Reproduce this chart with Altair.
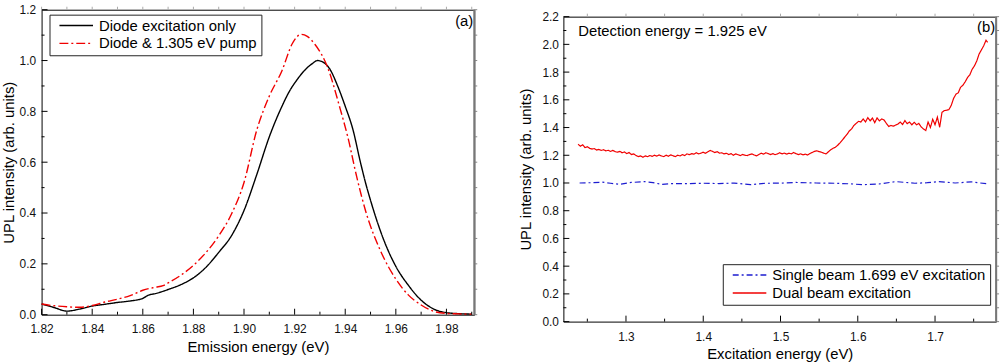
import altair as alt
import pandas as pd

FONT = "Liberation Sans"

# ---------------- Panel (a): emission spectra ----------------
only_x = [1.820, 1.825, 1.830, 1.835, 1.840, 1.845, 1.850, 1.855, 1.860, 1.862,
          1.865, 1.870, 1.875, 1.880, 1.885, 1.890, 1.895, 1.900, 1.905, 1.910,
          1.915, 1.918, 1.921, 1.924, 1.927, 1.929, 1.931, 1.934, 1.937, 1.940,
          1.943, 1.946, 1.948, 1.950, 1.955, 1.960, 1.965, 1.970, 1.975, 1.980,
          1.985, 1.990]
only_y = [0.042, 0.028, 0.014, 0.022, 0.034, 0.041, 0.048, 0.054, 0.064, 0.076,
          0.083, 0.099, 0.118, 0.145, 0.187, 0.245, 0.310, 0.410, 0.550, 0.700,
          0.820, 0.880, 0.925, 0.962, 0.988, 1.000, 0.995, 0.965, 0.900, 0.820,
          0.730, 0.600, 0.520, 0.450, 0.300, 0.190, 0.115, 0.057, 0.022, 0.008,
          0.004, 0.002]

pump_x = [1.820, 1.825, 1.830, 1.835, 1.840, 1.845, 1.850, 1.855, 1.860, 1.865,
          1.868, 1.870, 1.875, 1.880, 1.885, 1.890, 1.895, 1.900, 1.905, 1.910,
          1.915, 1.919, 1.9226, 1.925, 1.928, 1.933, 1.938, 1.941, 1.9446, 1.948,
          1.954, 1.960, 1.965, 1.970, 1.975, 1.980, 1.985, 1.990]
pump_y = [0.042, 0.035, 0.031, 0.029, 0.036, 0.050, 0.061, 0.075, 0.096, 0.108,
          0.114, 0.125, 0.155, 0.194, 0.245, 0.310, 0.395, 0.520, 0.725, 0.860,
          0.960, 1.065, 1.103, 1.095, 1.064, 0.974, 0.810, 0.700, 0.540, 0.410,
          0.250, 0.140, 0.077, 0.038, 0.013, 0.005, 0.003, 0.002]

series_a = ["Diode excitation only", "Diode & 1.305 eV pump"]

# ---------------- Panel (b): excitation scans ----------------
single_x = [1.240, 1.255, 1.269, 1.280, 1.292, 1.307, 1.324, 1.335, 1.346, 1.360,
            1.380, 1.400, 1.420, 1.440, 1.461, 1.480, 1.500, 1.520, 1.546, 1.570,
            1.590, 1.606, 1.628, 1.649, 1.674, 1.690, 1.705, 1.726, 1.747, 1.769]
single_y = [1.000, 1.002, 1.006, 0.998, 0.990, 1.004, 1.010, 1.003, 0.990, 0.996,
            0.995, 0.998, 0.996, 0.999, 0.988, 0.998, 0.999, 1.004, 1.000, 0.998,
            0.994, 0.988, 0.993, 1.010, 0.998, 1.002, 1.010, 1.000, 1.008, 0.993]

dual_x = [1.238, 1.241, 1.244, 1.247, 1.250, 1.253, 1.256, 1.259, 1.262, 1.265,
          1.268, 1.271, 1.274, 1.277, 1.280, 1.283, 1.286, 1.289, 1.292, 1.295,
          1.298, 1.301, 1.304, 1.307, 1.310, 1.313, 1.316, 1.319, 1.322, 1.325,
          1.328, 1.331, 1.334, 1.337, 1.340, 1.343, 1.346, 1.349, 1.352, 1.355,
          1.358, 1.361, 1.364, 1.367, 1.370, 1.373, 1.376, 1.379, 1.382, 1.385,
          1.388, 1.391, 1.394, 1.397, 1.400, 1.403, 1.406, 1.409, 1.412, 1.415,
          1.418, 1.421, 1.424, 1.427, 1.430, 1.433, 1.436, 1.439, 1.442, 1.445,
          1.448, 1.451, 1.454, 1.457, 1.460, 1.463, 1.466, 1.469, 1.472, 1.475,
          1.478, 1.481, 1.484, 1.487, 1.490, 1.493, 1.496, 1.499, 1.502, 1.505,
          1.508, 1.511, 1.514, 1.517, 1.520, 1.523, 1.526, 1.529, 1.532, 1.535,
          1.538, 1.541, 1.544, 1.547, 1.550, 1.553, 1.556, 1.559, 1.562, 1.565,
          1.568, 1.571, 1.574, 1.577, 1.580, 1.583, 1.586, 1.589, 1.592, 1.595,
          1.598, 1.601, 1.604, 1.607, 1.610, 1.613, 1.616, 1.619, 1.622, 1.625,
          1.628, 1.631, 1.634, 1.637, 1.640, 1.643, 1.646, 1.649, 1.652, 1.655,
          1.658, 1.661, 1.664, 1.667, 1.670, 1.673, 1.676, 1.679, 1.682, 1.685,
          1.688, 1.691, 1.694, 1.697, 1.700, 1.703, 1.706, 1.709, 1.712, 1.715,
          1.718, 1.721, 1.724, 1.727, 1.730, 1.733, 1.736, 1.739, 1.742, 1.745,
          1.748, 1.751, 1.754, 1.757, 1.760, 1.763, 1.766, 1.768]
dual_y = [1.280, 1.265, 1.275, 1.255, 1.262, 1.250, 1.245, 1.248, 1.238, 1.242,
          1.235, 1.240, 1.232, 1.236, 1.228, 1.235, 1.226, 1.222, 1.228, 1.218,
          1.224, 1.212, 1.220, 1.205, 1.210, 1.198, 1.190, 1.196, 1.186, 1.195,
          1.190, 1.198, 1.192, 1.200, 1.194, 1.202, 1.195, 1.190, 1.200, 1.193,
          1.203, 1.196, 1.190, 1.200, 1.195, 1.205, 1.198, 1.210, 1.204, 1.212,
          1.208, 1.218, 1.210, 1.215, 1.222, 1.214, 1.225, 1.235, 1.228, 1.220,
          1.226, 1.215, 1.218, 1.210, 1.214, 1.205, 1.212, 1.200, 1.210, 1.204,
          1.198, 1.206, 1.200, 1.198, 1.205, 1.210, 1.202, 1.196, 1.206, 1.215,
          1.208, 1.218, 1.212, 1.205, 1.212, 1.204, 1.210, 1.218, 1.210, 1.216,
          1.208, 1.215, 1.210, 1.220, 1.212, 1.205, 1.210, 1.203, 1.208, 1.202,
          1.212, 1.220, 1.228, 1.232, 1.226, 1.222, 1.215, 1.210, 1.225, 1.240,
          1.250, 1.258, 1.272, 1.290, 1.310, 1.330, 1.350, 1.375, 1.390, 1.415,
          1.430, 1.445, 1.440, 1.462, 1.440, 1.472, 1.448, 1.468, 1.435, 1.470,
          1.448, 1.462, 1.455, 1.430, 1.408, 1.415, 1.410, 1.418, 1.425, 1.440,
          1.422, 1.450, 1.428, 1.440, 1.420, 1.438, 1.420, 1.430, 1.405, 1.390,
          1.378, 1.440, 1.400, 1.460, 1.420, 1.475, 1.402, 1.510, 1.522, 1.525,
          1.530, 1.560, 1.610, 1.640, 1.650, 1.690, 1.705, 1.730, 1.760, 1.780,
          1.820, 1.845, 1.880, 1.930, 1.960, 1.990, 2.030, 2.015]

series_b = ["Single beam 1.699 eV excitation", "Dual beam excitation"]

# Tick positions
a_x_major = [1.82, 1.84, 1.86, 1.88, 1.90, 1.92, 1.94, 1.96, 1.98]
a_x_minor = [1.83, 1.85, 1.87, 1.89, 1.91, 1.93, 1.95, 1.97, 1.99]
a_y_major = [0.0, 0.2, 0.4, 0.6, 0.8, 1.0, 1.2]
a_y_minor = [0.1, 0.3, 0.5, 0.7, 0.9, 1.1]
b_x_major = [1.3, 1.4, 1.5, 1.6, 1.7]
b_x_minor = [1.25, 1.35, 1.45, 1.55, 1.65, 1.75]
b_y_major = [0.0, 0.2, 0.4, 0.6, 0.8, 1.0, 1.2, 1.4, 1.6, 1.8, 2.0, 2.2]
b_y_minor = [0.1, 0.3, 0.5, 0.7, 0.9, 1.1, 1.3, 1.5, 1.7, 1.9, 2.1]

W, H = 437, 308

df_a = pd.concat([
    pd.DataFrame({"e": only_x, "v": only_y, "s": series_a[0]}),
    pd.DataFrame({"e": pump_x, "v": pump_y, "s": series_a[1]}),
])
df_b = pd.concat([
    pd.DataFrame({"e": single_x, "v": single_y, "s": series_b[0]}),
    pd.DataFrame({"e": dual_x, "v": dual_y, "s": series_b[1]}),
])


def panel(df, xdom, ydom, xmaj, xmin, ymaj, ymin, xfmt, yfmt, xtitle, ytitle,
          names, colors, dashes, interp, width, legx, legy, ytpad, ylpad,
          xlpad, xtpad, tag, note):
    xs = alt.Scale(domain=xdom, nice=False, zero=False)
    ys = alt.Scale(domain=ydom, nice=False, zero=False)
    legend = alt.Legend(
        orient="none", legendX=legx, legendY=legy, title=None,
        symbolType="stroke", symbolSize=1150, symbolStrokeWidth=1.5,
        clipHeight=14, rowPadding=3, padding=4, symbolOffset=5,
        labelFont=FONT, labelFontSize=15, labelColor="black", labelOffset=5,
        labelLimit=500, fillColor="white", strokeColor="#222",
    )

    main = alt.Chart(df).mark_line(strokeWidth=width, interpolate=interp).encode(
        x=alt.X("e:Q", scale=xs, axis=alt.Axis(
            orient="bottom", values=xmaj, format=xfmt, ticks=False, domain=False,
            title=xtitle, labelPadding=xlpad, titlePadding=xtpad, labelFlush=False)),
        y=alt.Y("v:Q", scale=ys, axis=alt.Axis(
            orient="left", values=ymaj, format=yfmt, ticks=False, domain=False,
            title=ytitle, labelPadding=ylpad, titlePadding=ytpad, labelFlush=False)),
        color=alt.Color("s:N", scale=alt.Scale(domain=names, range=colors), legend=legend),
        strokeDash=alt.StrokeDash("s:N", scale=alt.Scale(domain=names, range=dashes), legend=legend),
        detail="s:N",
    )

    # tick marks placed through the panel's own scales
    def xticks(vals, y0, y1, color):
        return alt.Chart(pd.DataFrame({"t": vals})).mark_rule(color=color, strokeWidth=1).encode(
            x=alt.X("t:Q", scale=xs, axis=None), y=alt.value(y0), y2=alt.value(y1))

    def yticks(vals, x0, x1, color):
        return alt.Chart(pd.DataFrame({"t": vals})).mark_rule(color=color, strokeWidth=1).encode(
            y=alt.Y("t:Q", scale=ys, axis=None), x=alt.value(x0), x2=alt.value(x1))

    every_x = sorted(xmaj + xmin)
    every_y = sorted(ymaj + ymin)
    layers = [
        main,
        xticks(xmaj, H, H - 6, "black"),
        xticks(xmin, H, H - 3, "black"),
        yticks(ymaj, 0, 6, "black"),
        yticks(ymin, 0, 3, "black"),
        xticks(every_x, 0, -3, "#aaa"),
        yticks(every_y, W, W + 3, "#888"),
        alt.Chart().mark_rule(color="#777", strokeWidth=2).encode(
            x=alt.value(W), y=alt.value(0), y2=alt.value(H)),
        alt.Chart().mark_text(
            text=tag, font=FONT, fontSize=15, align="right", baseline="middle", color="black"
        ).encode(x=alt.value(W - 1), y=alt.value(11)),
    ]
    if note:
        layers.append(alt.Chart().mark_text(
            text=note, font=FONT, fontSize=15, align="left", baseline="middle", color="black"
        ).encode(x=alt.value(15), y=alt.value(15)))

    return alt.layer(*layers).resolve_axis(x="independent", y="independent").properties(
        width=W, height=H)


left = panel(df_a, [1.82, 1.991], [0, 1.2], a_x_major, a_x_minor, a_y_major, a_y_minor,
             ".2f", ".1f", "Emission energy (eV)", "UPL intensity (arb. units)",
             series_a, ["black", "#f00000"], [[1, 0], [9, 3, 2, 3]], "monotone", 1.4,
             8, 5, 3, 6, 9, 5, "(a)", None)

right = panel(df_b, [1.219, 1.779], [0, 2.2], b_x_major, b_x_minor, b_y_major, b_y_minor,
              ".1f", ".1f", "Excitation energy (eV)", "UPL intensity (arb. units)",
              series_b, ["#1c1cd0", "#f00000"], [[6, 3, 2, 3], [1, 0]], "linear", 1.2,
              161, 257, 9, 5, 10, 4, "(b)", "Detection energy = 1.925 eV")

# an empty strip above panel (b) lets it hang a little lower than panel (a)
strip = alt.Chart().mark_rule(opacity=0).encode(
    x=alt.value(0), x2=alt.value(1), y=alt.value(0)
).properties(width=W, height=1, view=alt.ViewBackground(stroke="transparent"))

chart = alt.hconcat(left, alt.vconcat(strip, right, spacing=-2), spacing=39).resolve_scale(
    color="independent", strokeDash="independent"
).properties(
    padding={"left": 0, "top": 1, "right": 4, "bottom": 0}
).configure_view(stroke="black", strokeWidth=1).configure_axis(
    grid=False, labelFont=FONT, labelFontSize=12, labelColor="#111",
    titleFont=FONT, titleFontSize=15, titleFontWeight="normal", titleColor="black",
)

chart.save("out.html", embed_options={"renderer": "svg", "actions": False})
